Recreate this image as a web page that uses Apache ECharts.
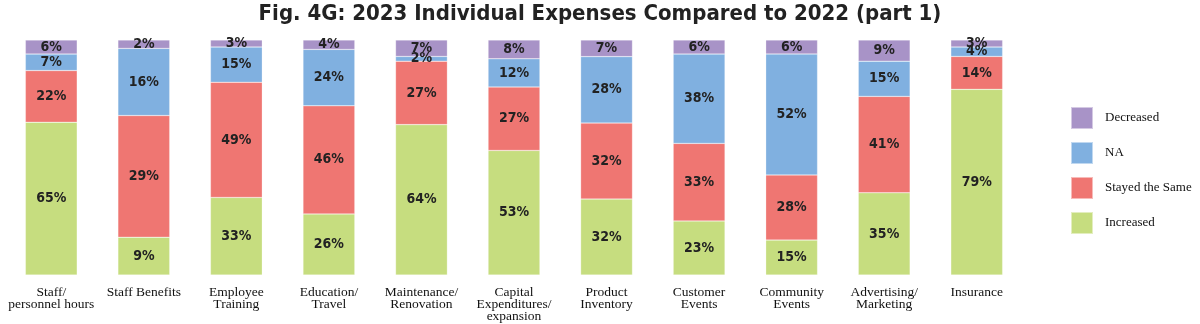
<!DOCTYPE html>
<html><head><meta charset="utf-8">
<script src="https://cdn.jsdelivr.net/npm/echarts@6/dist/echarts.min.js"></script>
<style>html,body{margin:0;padding:0;background:#fff}#c{width:1200px;height:324px}</style>
</head><body><div id="c"></div>
<script>
const categories = ['Staff/\npersonnel hours','Staff Benefits','Employee\nTraining','Education/\nTravel','Maintenance/\nRenovation','Capital\nExpenditures/\nexpansion','Product\nInventory','Customer\nEvents','Community\nEvents','Advertising/\nMarketing','Insurance'];
const increased = [65, 9, 33, 26, 64, 53, 32, 23, 15, 35, 79];
const stayedSame = [22, 29, 49, 46, 27, 27, 32, 33, 28, 41, 14];
const na = [7, 16, 15, 24, 2, 12, 28, 38, 52, 15, 4];
const decreased = [6, 2, 3, 4, 7, 8, 7, 6, 6, 9, 3];
const seriesDefs = [
  {name:'Increased', data:increased, color:'#C6DD7F'},
  {name:'Stayed the Same', data:stayedSame, color:'#EF7672'},
  {name:'NA', data:na, color:'#80B0E0'},
  {name:'Decreased', data:decreased, color:'#A893C7'}
];
const totals = categories.map((_, i) => seriesDefs.reduce((s, d) => s + d.data[i], 0));
const chart = echarts.init(document.getElementById('c'));
chart.setOption({
  animation:false,
  title:{text:'Fig. 4G: 2023 Individual Expenses Compared to 2022 (part 1)', left:'center', top:-2,
    textStyle:{fontFamily:'DejaVu Sans Condensed', fontWeight:'bold', fontSize:22, color:'#222'}},
  legend:{orient:'vertical', left:1070, top:106, padding:0, icon:'rect', itemWidth:22, itemHeight:22, itemGap:11,
    data:['Decreased','NA','Stayed the Same','Increased'],
    textStyle:{fontFamily:'Liberation Serif', fontSize:13, color:'#111', padding:[0,0,0,7]}},
  grid:{left:5, right:177, top:40, bottom:49},
  xAxis:{type:'category', data:categories, axisLine:{show:false}, axisTick:{show:false},
    axisLabel:{interval:0, margin:11, fontFamily:'Liberation Serif', fontSize:13.5, lineHeight:12, color:'#111'}},
  yAxis:{type:'value', min:0, max:100, show:false, splitLine:{show:false}},
  series: seriesDefs.map(d => ({
    name:d.name, type:'bar', stack:'t', barCategoryGap:'44%',
    itemStyle:{color:d.color, borderColor:'rgba(255,255,255,0.5)', borderWidth:0.5},
    label:{show:true, position:'inside', fontFamily:'DejaVu Sans Condensed', fontWeight:'bold', fontSize:14, color:'#222',
      formatter:p => d.data[p.dataIndex] + '%'},
    data:d.data.map((v, i) => v / totals[i] * 100)
  }))
});
</script></body></html>
